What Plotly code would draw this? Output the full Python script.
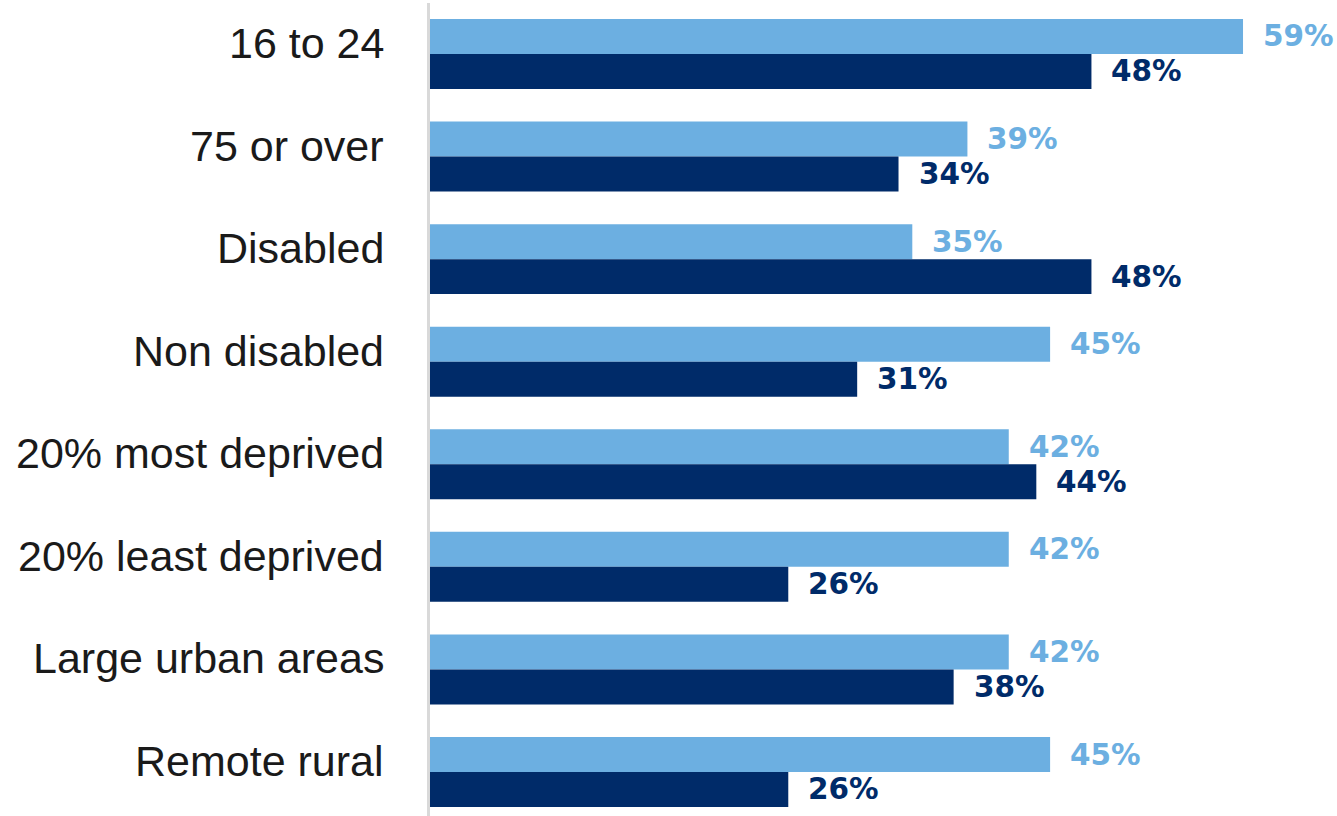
import plotly.graph_objects as go

# Categories, top to bottom
categories = [
    "16 to 24",
    "75 or over",
    "Disabled",
    "Non disabled",
    "20% most deprived",
    "20% least deprived",
    "Large urban areas",
    "Remote rural",
]

# Percentages for the two series
series_light = [59, 39, 35, 45, 42, 42, 42, 45]
series_dark = [48, 34, 48, 31, 44, 26, 38, 26]

light_color = "#6CAFE1"
dark_color = "#002B69"

positions = list(range(len(categories)))

fig = go.Figure()
fig.add_trace(go.Bar(
    x=series_light, y=positions, orientation="h",
    marker=dict(color=light_color, line=dict(width=0)),
    showlegend=False, hoverinfo="skip",
))
fig.add_trace(go.Bar(
    x=series_dark, y=positions, orientation="h",
    marker=dict(color=dark_color, line=dict(width=0)),
    showlegend=False, hoverinfo="skip",
))

annotations = []
# Value labels to the right of each bar
group_half = 0.341 / 2
for i, (a, b) in enumerate(zip(series_light, series_dark)):
    annotations.append(dict(
        x=a, y=i - group_half, xref="x", yref="y", text=f"{a}%",
        showarrow=False, xanchor="left", yanchor="middle", xshift=18,
        font=dict(family="DejaVu Sans", size=29.5, color=light_color, weight="bold"),
    ))
    annotations.append(dict(
        x=b, y=i + group_half, xref="x", yref="y", text=f"{b}%",
        showarrow=False, xanchor="left", yanchor="middle", xshift=18,
        font=dict(family="DejaVu Sans", size=29.5, color=dark_color, weight="bold"),
    ))

# Category labels, right-aligned against the axis
for i, cat in enumerate(categories):
    annotations.append(dict(
        x=0, y=i, xref="paper", yref="y", text=cat,
        showarrow=False, xanchor="right", yanchor="middle",
        xshift=-44, yshift=11,
        font=dict(family="Liberation Sans", size=43, color="#1a1a1a"),
    ))

fig.update_layout(
    width=1337, height=816,
    margin=dict(l=430, r=0, t=3, b=0),
    paper_bgcolor="white", plot_bgcolor="white",
    barmode="group", bargap=0.318, bargroupgap=0,
    annotations=annotations,
    xaxis=dict(range=[0, 907 / 13.78], visible=False, fixedrange=True),
    yaxis=dict(
        range=[7.429, -0.497], tickvals=positions, showticklabels=False,
        showgrid=False, zeroline=False, showline=True,
        linecolor="#d9d9d9", linewidth=3, ticks="", fixedrange=True,
    ),
)

fig.write_html("out.html", config={"displayModeBar": False})
